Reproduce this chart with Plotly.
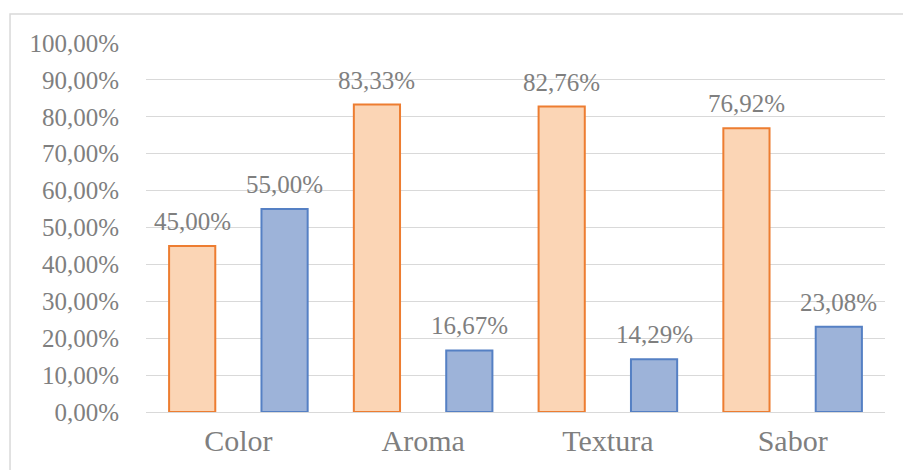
import plotly.graph_objects as go

# Categories and shares per attribute (fractions of 1)
categories = ["Color", "Aroma", "Textura", "Sabor"]
series_a = [0.45, 0.8333, 0.8276, 0.7692]
series_b = [0.55, 0.1667, 0.1429, 0.2308]

FONT = "Liberation Serif"
GRAY = "#7F7F7F"

fig = go.Figure()
fig.add_trace(go.Bar(
    x=categories, y=series_a, name="A",
    marker=dict(color="#FBD5B5", line=dict(color="#ED7D31", width=2)),
))
fig.add_trace(go.Bar(
    x=categories, y=series_b, name="B",
    marker=dict(color="#9DB3D9", line=dict(color="#5580C4", width=2)),
))

# Value labels above each bar
def pct(v):
    return f"{v * 100:.2f}%".replace(".", ",")

for i, (a, b) in enumerate(zip(series_a, series_b)):
    for v, off in ((a, -0.25), (b, 0.25)):
        fig.add_annotation(
            x=i + off, y=v, xref="x", yref="y",
            text=pct(v), showarrow=False,
            yanchor="bottom", yshift=9,
            font=dict(family=FONT, size=25, color=GRAY),
        )

# Light frame around the chart
fig.add_shape(
    type="rect", xref="paper", yref="paper",
    x0=-0.184, x1=1.2, y0=-0.3, y1=1.0786,
    line=dict(color="#D9D9D9", width=1.5), fillcolor="rgba(0,0,0,0)",
    layer="below",
)

fig.update_layout(
    width=903, height=470,
    margin=dict(l=146, r=18, t=43, b=58),
    paper_bgcolor="white", plot_bgcolor="white",
    barmode="group", bargap=0, bargroupgap=0.5,
    separators=",.",
    showlegend=False,
    font=dict(family=FONT, color=GRAY),
)
fig.update_xaxes(
    showgrid=False, showline=False, zeroline=False,
    tickfont=dict(family=FONT, size=30, color=GRAY),
    ticks="", ticklabelstandoff=8,
)
fig.update_yaxes(
    range=[0, 1], dtick=0.1, tickformat=".2%",
    showgrid=True, gridcolor="#D9D9D9", gridwidth=1,
    zeroline=True, zerolinecolor="#D9D9D9", zerolinewidth=1,
    showline=False, ticks="", ticklabelstandoff=26,
    tickfont=dict(family=FONT, size=25, color=GRAY),
)

fig.write_html("out.html")
